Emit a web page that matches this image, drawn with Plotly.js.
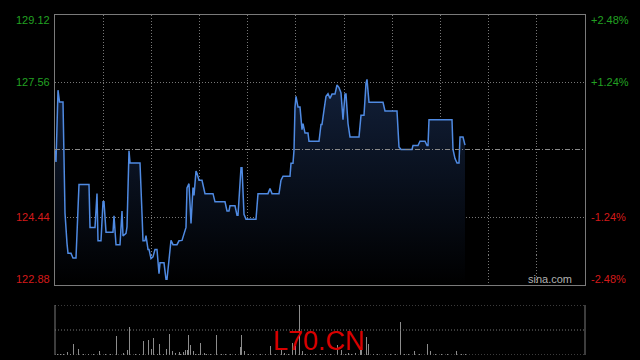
<!DOCTYPE html>
<html>
<head>
<meta charset="utf-8">
<script src="https://cdn.plot.ly/plotly-3.0.1.min.js"></script>
<style>
html,body{margin:0;padding:0;background:#000;}
#chart{width:640px;height:360px;}
</style>
</head>
<body>
<div id="chart"></div>
<script>
// ---- data ----
const prevClose = 126.00;
const priceTicks = [129.12, 127.56, 124.44, 122.88];
const pctTicks = ['+2.48%', '+1.24%', '-1.24%', '-2.48%'];

const times = [0,1,3,4.5,8,10,12,13,16,18,21,24,34,35,40,42,43,46,48,49,51,58,59,61,65,67,68,71,72,74,75,85,87,88,90,91,93,94,96,98,100,102,104,105,109,111,112,114,116,118,122,124,127,131,132,134,136,138,139,141,142,144,147,150,158,160,170,172,174,175,180,182,183,186,187,189,191,201,203,213,215,217,224,226,228,235,236,238,239,240,241,243,245,247,248,250,253,254,264,266,267,269,271,273,275,277,280,282,284,286,288,290,291,293,295,304,306,309,311,312,314,328,330,342,344,346,357,358,363,365,370,372,373,374,397,398,400,402,404,405,408,410];
const prices = [125.98,125.71,127.37,127.10,127.10,124.53,123.83,123.60,123.60,123.49,123.49,125.19,125.19,124.20,124.20,124.98,123.89,123.89,124.79,124.79,124.09,124.09,124.47,123.80,123.80,124.58,124.00,124.06,124.21,125.97,125.69,125.69,124.52,123.89,123.89,124.01,123.69,123.69,123.48,123.52,123.69,123.69,123.13,123.38,123.38,123.00,123.00,123.44,123.90,123.80,123.80,123.89,123.90,124.20,125.11,125.21,124.29,125.12,124.94,125.50,125.45,125.29,125.29,124.98,124.98,124.79,124.79,124.58,124.58,124.70,124.70,124.48,124.48,125.58,125.58,124.50,124.39,124.39,124.98,124.98,125.10,124.98,124.98,125.29,125.38,125.38,125.68,125.68,125.98,126.98,127.23,126.98,126.98,126.46,126.60,126.38,126.38,126.19,126.19,126.58,126.58,126.91,127.23,127.29,127.18,127.28,127.28,127.49,127.43,127.31,126.69,127.28,127.28,126.60,126.29,126.29,126.79,126.79,127.53,127.62,127.09,127.09,126.89,126.89,126.06,126.00,126.00,126.09,126.09,126.19,126.19,126.09,126.09,126.69,126.69,126.00,125.79,125.69,125.69,126.29,126.29,126.10];

const volTimes = [2,5,8,12,15,18,23,28,33,38,44,50,55,61,68,72,74,80,84,88,93,96,98,102,104,108,111,114,117,120,124,125,128,130,132,133,135,138,140,143,145,149,151,155,161,166,170,175,180,185,186,189,193,198,205,210,215,220,226,229,233,237,240,244,247,250,255,260,265,270,275,282,286,290,293,296,300,305,306,311,313,318,322,330,335,340,345,349,353,359,364,372,375,380,386,392,401,406,410];
const volumes = [2,3,2,6,2,22,12,2,2,2,8,2,2,38,4,10,56,2,2,28,30,12,34,2,22,2,12,42,8,4,6,2,6,10,10,40,20,8,3,2,24,4,3,2,40,2,2,3,2,16,40,8,2,2,2,2,18,2,12,4,2,24,18,100,8,3,2,2,2,2,2,20,10,2,4,2,4,12,10,36,22,2,2,2,2,2,66,3,2,8,2,22,8,2,2,2,8,3,2];

// ---- styles ----
const gridCol = '#777777';
const borderCol = '#7a7a7a';
const upCol = '#22a022';
const downCol = '#d41a1a';
const fontFam = '"Liberation Sans", Arial, sans-serif';

const priceTrace = {
  x: times, y: prices, type: 'scatter', mode: 'lines',
  xaxis: 'x', yaxis: 'y',
  line: {color: '#4f8ae2', width: 1.5},
  fill: 'tozeroy',
  fillgradient: {
    type: 'vertical', start: priceTicks[3], stop: 127.7,
    colorscale: [[0, 'rgba(0,0,0,1)'], [1, '#12203a']]
  },
  hoverinfo: 'skip'
};

const volTrace = {
  x: volTimes, y: volumes, type: 'bar',
  xaxis: 'x2', yaxis: 'y2',
  width: 1,
  marker: {color: '#8c8c8c', line: {width: 0}},
  hoverinfo: 'skip'
};

const annotations = [];
priceTicks.forEach((v, i) => {
  const col = v > prevClose ? upCol : downCol;
  const ys = i === 0 ? -6 : (i === priceTicks.length - 1 ? 6 : 0);
  annotations.push({
    xref: 'x domain', yref: 'y', x: 0, y: v, xanchor: 'right', yanchor: 'middle',
    xshift: -3, yshift: ys, showarrow: false, text: v.toFixed(2),
    font: {family: fontFam, size: 11, color: col}
  });
  annotations.push({
    xref: 'x domain', yref: 'y', x: 1, y: v, xanchor: 'left', yanchor: 'middle',
    xshift: 4, yshift: ys, showarrow: false, text: pctTicks[i],
    font: {family: fontFam, size: 11, color: col}
  });
});
annotations.push({
  xref: 'x domain', yref: 'y domain', x: 1, y: 0, xanchor: 'right', yanchor: 'bottom',
  xshift: -11, yshift: -2, showarrow: false, text: 'sina.com',
  font: {family: fontFam, size: 11, color: '#b0b0b0'}
});
annotations.push({
  xref: 'paper', yref: 'paper', x: 0.4984, y: 0.052, xanchor: 'center', yanchor: 'middle',
  showarrow: false, text: 'L70.CN',
  font: {family: fontFam, size: 27, color: '#d80000'}
});

const shapes = [
  {type: 'line', xref: 'x domain', yref: 'y', x0: 0, x1: 1, y0: prevClose, y1: prevClose,
   line: {color: '#8a8a8a', width: 1, dash: '5px,2px,1px,2px'}},
  {type: 'line', xref: 'x2 domain', yref: 'y2', x0: 0, x1: 1, y0: 0, y1: 0,
   line: {color: gridCol, width: 1, dash: '1px,2px'}},
  {type: 'line', xref: 'x2 domain', yref: 'y2', x0: 0, x1: 1, y0: 50, y1: 50,
   line: {color: gridCol, width: 1, dash: '1px,2px'}},
  {type: 'line', xref: 'x2 domain', yref: 'y2', x0: 0, x1: 1, y0: 100, y1: 100,
   line: {color: gridCol, width: 1, dash: '1px,2px'}},
  {type: 'line', xref: 'x2 domain', yref: 'y2', x0: 0, x1: 0, y0: 0, y1: 100,
   line: {color: borderCol, width: 1}},
  {type: 'line', xref: 'x2 domain', yref: 'y2', x0: 1, x1: 1, y0: 0, y1: 100,
   line: {color: borderCol, width: 1}}
];

const layout = {
  width: 640, height: 360,
  margin: {l: 55, r: 55, t: 0, b: 0, pad: 0},
  paper_bgcolor: '#000', plot_bgcolor: '#000',
  showlegend: false, hovermode: false,
  xaxis: {
    domain: [0, 1], range: [0, 530], tick0: 0, dtick: 530 / 11,
    showgrid: true, gridcolor: gridCol, griddash: '1px,2px', gridwidth: 1,
    showticklabels: false, ticks: '', zeroline: false,
    showline: true, mirror: true, linecolor: borderCol, linewidth: 1,
    anchor: 'y', fixedrange: true
  },
  yaxis: {
    domain: [1 - 284.5 / 360, 1 - 14.5 / 360],
    range: [priceTicks[3], priceTicks[0]],
    tickvals: [priceTicks[1], priceTicks[2]],
    showgrid: true, gridcolor: gridCol, griddash: '1px,2px', gridwidth: 1,
    showticklabels: false, ticks: '', zeroline: false,
    showline: true, mirror: true, linecolor: borderCol, linewidth: 1,
    anchor: 'x', fixedrange: true
  },
  xaxis2: {
    domain: [0, 1], range: [0, 530], anchor: 'y2',
    showgrid: false, showticklabels: false, ticks: '', zeroline: false, showline: false
  },
  yaxis2: {
    domain: [1 - 355 / 360, 1 - 305 / 360], range: [0, 100], anchor: 'x2',
    showgrid: false, showticklabels: false, ticks: '', zeroline: false, showline: false
  },
  annotations: annotations,
  shapes: shapes,
  bargap: 0
};

Plotly.newPlot('chart', [priceTrace, volTrace], layout, {displayModeBar: false, staticPlot: true});
</script>
</body>
</html>
